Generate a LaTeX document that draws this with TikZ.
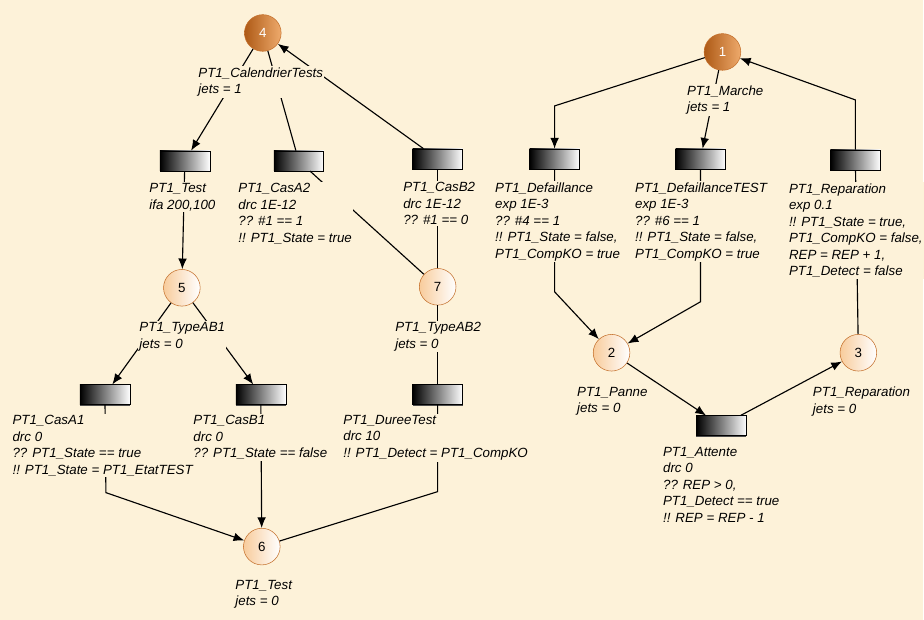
\documentclass[tikz,border=0pt]{standalone}
\usepackage{fontspec}
\setmainfont{Liberation Sans}
\usetikzlibrary{arrows.meta, shadows}
\definecolor{bgcream}{RGB}{253,242,217}
\definecolor{placedark}{RGB}{174,90,22}
\definecolor{placelight}{RGB}{238,170,108}
\definecolor{placeedge}{RGB}{196,112,44}
\definecolor{placepale}{RGB}{248,204,156}

\begin{document}
\begin{tikzpicture}[
        x=0.75pt, y=-0.75pt,
        place/.style={
            draw=placeedge,
            circle,
            minimum size=27.5pt,
            inner sep=0pt,
            left color=placepale,
            right color=white,
            font=\fontsize{10}{12}\selectfont,
        },
        marked/.style={
            left color=placedark,
            right color=placelight,
            text=white,
        },
        trans/.style={
            draw,
            rectangle,
            minimum width=37.5pt,
            minimum height=15pt,
            left color=black,
            right color=white,
            drop shadow={shadow xshift=0pt, shadow yshift=-1.2pt, fill=black!70, opacity=1},
        },
        lbl/.style={
            anchor=north west,
            align=left,
            fill=bgcream,
            inner sep=1pt,
            font=\fontsize{10}{12.4}\selectfont\itshape,
        },
    ]

    \fill[bgcream] (0,0) rectangle (924,620);

    \node[place, marked] (p4) at (263,33) {4};
    \node[place, marked] (p1) at (723,52) {1};
    \node[place] (p5) at (182,288) {5};
    \node[place] (p7) at (438,287) {7};
    \node[place] (p6) at (262,547) {6};
    \node[place] (p2) at (612,353) {2};
    \node[place] (p3) at (859,353) {3};

    \node[trans] (tTest) at (185,161) {};
    \node[trans] (tCasA2) at (299,161) {};
    \node[trans] (tCasB2) at (438,159) {};
    \node[trans] (tCasA1) at (105,395) {};
    \node[trans] (tCasB1) at (261,395) {};
    \node[trans] (tDuree) at (438,395) {};
    \node[trans] (tDef) at (555,159) {};
    \node[trans] (tDefT) at (701,159) {};
    \node[trans] (tRep) at (856,160) {};
    \node[trans] (tAtt) at (722,426) {};

    \coordinate (kA1) at (106,493);
    \coordinate (kDuree) at (438,492);
    \coordinate (kDef) at (555,106);
    \coordinate (kRep) at (856,100);
    \coordinate (kD2) at (555,292);
    \coordinate (kDT2) at (701,302);

    \begin{scope}[->, >={Latex[length=8pt, width=6.5pt]}, line width=0.85pt]
        \draw (p4) to (tTest);
        \draw (tCasB2) to (p4);
        \draw (tTest) to (p5);
        \draw (p5) to (tCasA1);
        \draw (p5) to (tCasB1);
        \draw (tCasA1) -- (kA1) -- (p6);
        \draw (tCasB1) to (p6);
        \draw (p1) -- (kDef) -- (tDef);
        \draw (p1) to (tDefT);
        \draw (tRep) -- (kRep) -- (p1);
        \draw (tDef) -- (kD2) -- (p2);
        \draw (tDefT) -- (kDT2) -- (p2);
        \draw (p2) to (tAtt);
        \draw (tAtt) to (p3);
    \end{scope}

    \begin{scope}[line width=0.85pt]
        \draw (p4) to (tCasA2);
        \draw (tCasA2) to (p7);
        \draw (tCasB2) to (p7);
        \draw (p7) to (tDuree);
        \draw (tDuree) -- (kDuree) -- (p6);
        \draw (p3) to (tRep);
    \end{scope}

    \node[lbl] (lp4) at (197,66) {PT1\_CalendrierTests\\jets = 1};
    \node[lbl] (ltTest) at (148,182) {PT1\_Test\\ifa 200,100};
    \node[lbl] (ltCasA2) at (237,182) {PT1\_CasA2\\drc 1E-12\\?? \#1 == 1\\!! PT1\_State = true};
    \node[lbl] (ltCasB2) at (402,181) {PT1\_CasB2\\drc 1E-12\\?? \#1 == 0};
    \node[lbl] (lp5) at (138,321) {PT1\_TypeAB1\\jets = 0};
    \node[lbl] (lp7) at (394,321) {PT1\_TypeAB2\\jets = 0};
    \node[lbl] (ltCasA1) at (11,414) {PT1\_CasA1\\drc 0\\?? PT1\_State == true\\!! PT1\_State = PT1\_EtatTEST};
    \node[lbl] (ltCasB1) at (192,414) {PT1\_CasB1\\drc 0\\?? PT1\_State == false};
    \node[lbl] (ltDuree) at (342,414) {PT1\_DureeTest\\drc 10\\!! PT1\_Detect = PT1\_CompKO};
    \node[lbl] (lp6) at (234,579) {PT1\_Test\\jets = 0};
    \node[lbl] (lp1) at (686,84) {PT1\_Marche\\jets = 1};
    \node[lbl] (ltDef) at (494,181) {PT1\_Defaillance\\exp 1E-3\\?? \#4 == 1\\!! PT1\_State = false,\\PT1\_CompKO = true};
    \node[lbl] (ltDefT) at (634,181) {PT1\_DefaillanceTEST\\exp 1E-3\\?? \#6 == 1\\!! PT1\_State = false,\\PT1\_CompKO = true};
    \node[lbl] (ltRep) at (788,182) {PT1\_Reparation\\exp 0.1\\!! PT1\_State = true,\\PT1\_CompKO = false,\\REP = REP + 1,\\PT1\_Detect = false};
    \node[lbl] (lp2) at (576,386) {PT1\_Panne\\jets = 0};
    \node[lbl] (lp3) at (812,386) {PT1\_Reparation\\jets = 0};
    \node[lbl] (ltAtt) at (662,446) {PT1\_Attente\\drc 0\\?? REP > 0,\\PT1\_Detect == true\\!! REP = REP - 1};
\end{tikzpicture}
\end{document}
